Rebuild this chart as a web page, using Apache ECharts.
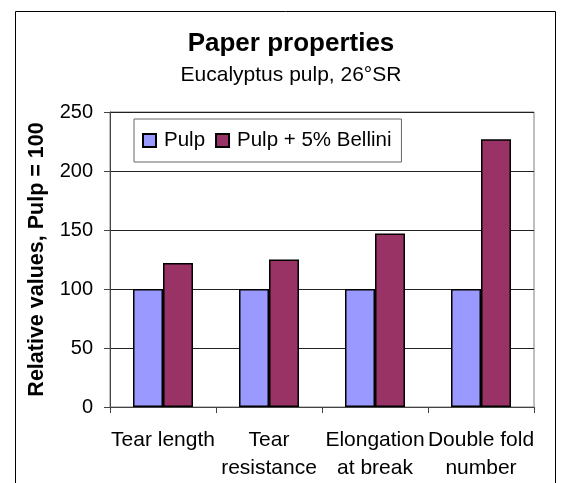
<!DOCTYPE html>
<html>
<head>
<meta charset="utf-8">
<script src="https://cdn.jsdelivr.net/npm/echarts@6/dist/echarts.min.js"></script>
<style>
html,body{margin:0;padding:0;background:#fff;}
#chart{width:566px;height:483px;}
</style>
</head>
<body>
<div id="chart"></div>
<script>
var categories = ['Tear length', 'Tear\nresistance', 'Elongation\nat break', 'Double fold\nnumber'];
var pulpValues = [100, 100, 100, 100];
var belliniValues = [122, 125, 147, 227];
var seriesNames = ['Pulp', 'Pulp + 5% Bellini'];
var titleText = 'Paper properties';
var subtitleText = 'Eucalyptus pulp, 26°SR';
var yAxisName = 'Relative values, Pulp = 100';

var FONT = '"Liberation Sans", Arial, sans-serif';
var chart = echarts.init(document.getElementById('chart'), null, {renderer: 'canvas'});
chart.setOption({
  backgroundColor: '#fff',
  animation: false,
  textStyle: {fontFamily: FONT},
  graphic: [
    {type: 'rect', shape: {x: 15.5, y: 11.5, width: 540, height: 490}, style: {fill: 'none', stroke: '#000', lineWidth: 1}, z: 0},
    {type: 'text', x: 291, y: 44, style: {text: titleText, font: 'bold 26px ' + FONT, fill: '#000', align: 'center', verticalAlign: 'middle'}},
    {type: 'text', x: 291, y: 75, style: {text: subtitleText, font: '21px ' + FONT, fill: '#000', align: 'center', verticalAlign: 'middle'}}
  ],
  grid: {left: 110, right: 32, top: 112, bottom: 76, show: true, borderColor: '#808080', borderWidth: 1, backgroundColor: 'transparent'},
  legend: {
    left: 134, top: 119,
    orient: 'horizontal',
    data: seriesNames,
    itemWidth: 13, itemHeight: 13, itemGap: 10,
    padding: [11, 10, 11, 8],
    borderColor: '#666', borderWidth: 1,
    icon: 'rect',
    textStyle: {fontSize: 20.5, fontFamily: FONT, color: '#000', padding: [0, 0, 0, 3], lineHeight: 20}
  },
  xAxis: {
    type: 'category',
    data: categories,
    axisLine: {lineStyle: {color: '#444', width: 1}},
    axisTick: {show: true, inside: false, length: 6, lineStyle: {color: '#444'}},
    axisLabel: {interval: 0, fontSize: 21, color: '#000', margin: 19, lineHeight: 28, fontFamily: FONT},
    splitLine: {show: false}
  },
  yAxis: {
    type: 'value',
    min: 0, max: 250, interval: 50,
    name: yAxisName,
    nameLocation: 'middle',
    nameRotate: 90,
    nameGap: 62,
    nameTextStyle: {fontSize: 21.5, fontWeight: 'bold', color: '#000', fontFamily: FONT},
    axisLine: {show: true, lineStyle: {color: '#444', width: 1}},
    axisTick: {show: true, inside: false, length: 6, lineStyle: {color: '#444'}},
    axisLabel: {fontSize: 20, color: '#000', margin: 17, fontFamily: FONT},
    splitLine: {show: true, lineStyle: {color: '#222', width: 1}}
  },
  series: [
    {name: seriesNames[0], type: 'bar', data: pulpValues, barWidth: 30, barGap: '0%',
     itemStyle: {color: '#9999FF', borderColor: '#000', borderWidth: 1.5}},
    {name: seriesNames[1], type: 'bar', data: belliniValues, barWidth: 30, barGap: '0%',
     itemStyle: {color: '#993366', borderColor: '#000', borderWidth: 1.5}}
  ]
});
</script>
</body>
</html>
